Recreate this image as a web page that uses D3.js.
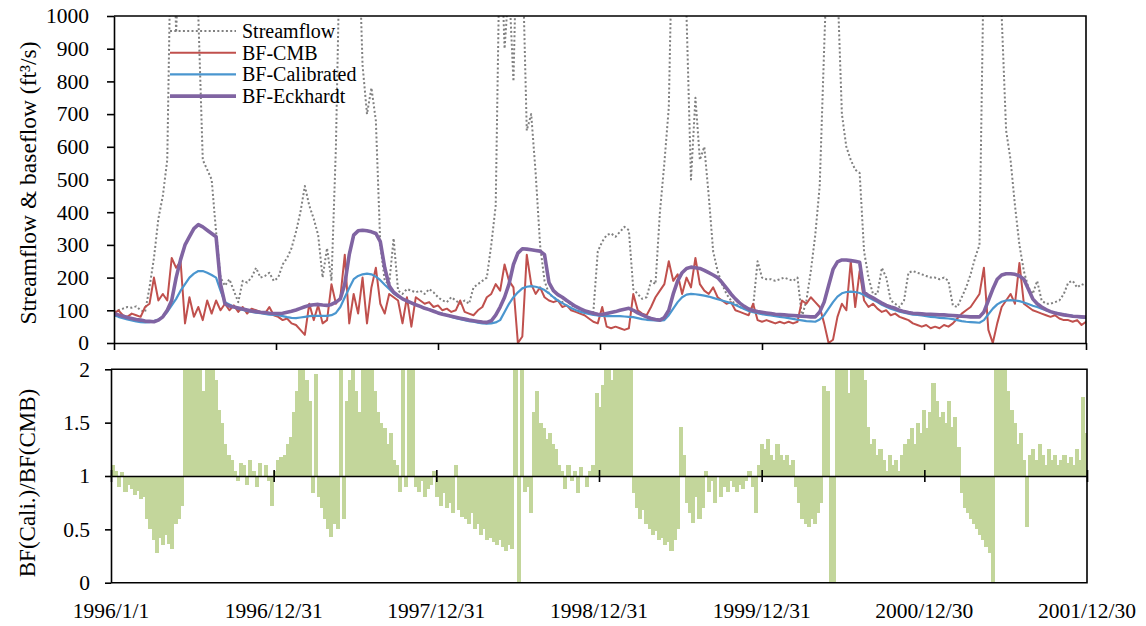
<!DOCTYPE html>
<html>
<head>
<meta charset="utf-8">
<script src="https://cdn.jsdelivr.net/npm/d3@7"></script>
<style>
  body { margin: 0; background: #ffffff; }
  svg text { font-family: "Liberation Serif", "Times New Roman", serif; fill: #000000; }
</style>
</head>
<body>
<div id="chart"></div>
<script>
//--------------------------------------------------
// Data
//--------------------------------------------------
var tickLabels = ['1996/1/1', '1996/12/31', '1997/12/31', '1998/12/31', '1999/12/31', '2000/12/30', '2001/12/30'];
var flowTicks = [0, 100, 200, 300, 400, 500, 600, 700, 800, 900, 1000];
var ratioTicks = [0, 0.5, 1, 1.5, 2];
var flowStepDays = 10;   // one value every 10 days from 1996/1/1
var ratioStepDays = 7;   // one bar every 7 days from 1996/1/1

var streamflow = [
  95,100,105,110,108,112,100,95,170,260,
  380,450,560,1400,950,1300,1100,1500,1200,1000,
  560,530,500,340,200,175,195,160,125,190,
  185,200,230,200,205,215,190,200,240,260,
  290,340,400,480,420,380,330,200,290,190,
  600,1300,1100,1000,1200,1300,850,700,780,680,
  300,190,180,320,160,150,165,160,155,160,
  150,165,155,140,130,125,140,130,120,130,
  120,170,180,190,200,300,420,1300,900,1100,
  800,1400,1200,650,700,520,300,190,150,140,
  130,125,130,115,110,105,100,95,95,280,
  310,330,335,325,340,355,345,165,150,135,
  140,190,180,400,550,720,1400,1200,1100,1000,
  500,750,560,600,450,280,220,180,150,130,
  120,110,105,100,110,250,200,195,195,190,
  195,200,195,190,200,80,130,220,330,480,
  900,1300,1500,1100,700,600,560,530,520,280,
  200,150,150,230,200,130,120,110,130,215,
  220,215,210,205,200,200,195,200,190,115,
  110,140,170,210,260,300,1200,1400,1300,1100,
  1000,650,560,420,300,220,170,150,190,130,
  120,120,125,130,150,185,190,170,180,175
];

var bfCMB = [
  90,100,85,80,90,85,80,110,120,200,
  130,150,130,260,230,250,60,140,80,110,
  70,130,90,130,100,120,100,115,95,110,
  90,105,100,95,90,110,85,80,70,75,
  60,55,40,25,120,70,115,60,70,180,
  120,140,270,60,150,90,200,60,170,230,
  120,90,150,140,130,60,140,50,140,130,
  120,125,110,115,100,105,95,100,130,95,
  90,85,100,110,140,150,180,160,240,190,
  170,0,20,270,180,150,170,140,130,125,
  130,110,115,100,95,90,85,75,65,60,
  110,50,45,50,45,40,45,150,100,90,
  85,110,140,160,180,250,190,210,150,200,
  170,260,180,160,150,170,140,130,120,125,
  100,95,90,85,120,70,65,70,65,60,
  65,60,65,60,65,130,120,140,125,110,
  60,0,10,80,120,100,250,110,220,130,
  110,120,105,95,100,85,90,80,75,70,
  60,55,50,55,45,50,45,55,50,60,
  75,90,100,110,130,150,230,40,0,60,
  110,130,150,120,245,120,110,100,95,90,
  85,80,85,75,70,70,65,70,55,65
];

var bfCalibrated = [
  85,80,76,72,69,66,64,63,64,67,
  72,80,95,115,135,160,180,200,212,220,
  220,215,208,200,160,125,118,110,105,101,
  98,95,93,91,89,87,86,85,82,79,
  77,76,78,80,82,83,83,83,83,85,
  92,110,140,168,195,205,210,212,210,203,
  192,178,165,152,142,135,128,122,117,112,
  107,103,98,93,89,85,80,76,73,70,
  67,65,62,60,59,60,63,70,95,120,
  140,155,167,172,174,172,168,162,152,140,
  130,122,115,107,101,96,92,89,86,84,
  83,82,82,82,82,81,80,79,76,73,
  71,70,69,68,70,85,105,125,140,148,
  150,149,147,145,142,138,134,130,126,122,
  116,110,104,98,94,91,88,86,84,82,
  80,78,76,74,71,69,67,66,65,72,
  85,105,125,142,152,156,157,156,153,147,
  140,132,125,117,111,105,100,96,93,90,
  87,86,84,82,80,79,77,76,75,73,
  70,67,65,64,63,62,70,88,105,118,
  126,130,131,130,128,124,119,114,110,105,
  100,96,93,90,88,85,83,80,78,76
];

var bfEckhardt = [
  90,86,82,78,75,72,70,67,66,65,
  70,80,100,130,200,255,300,325,350,362,
  355,345,335,325,180,120,113,110,107,104,
  101,98,96,94,93,91,90,90,91,94,
  97,101,106,111,115,117,118,116,115,118,
  125,135,180,270,330,343,345,343,340,335,
  310,230,175,155,145,135,129,123,117,112,
  106,102,97,92,88,85,82,79,76,73,
  70,68,66,64,63,68,85,110,140,180,
  240,275,288,287,285,283,281,270,185,160,
  148,140,130,121,112,105,99,95,91,88,
  87,90,93,96,100,103,106,100,92,86,
  80,75,72,70,78,100,150,190,215,228,
  232,230,228,222,215,208,200,185,168,150,
  135,122,112,104,99,96,94,92,90,88,
  87,86,85,84,83,82,81,80,80,95,
  125,175,225,248,254,254,252,250,247,155,
  145,138,130,122,115,110,106,100,96,93,
  91,90,89,88,88,87,86,86,85,84,
  83,82,81,80,80,80,95,130,165,195,
  208,212,212,210,205,195,165,135,120,110,
  102,96,92,89,86,84,82,81,80,79
];

// BF(Cali.)/BF(CMB), weekly, clipped to the 0-2 range of the panel
var ratioCaliCMB = [
  1.1,1.05, 0.9,1.04,0.85,0.92,0.88, 0.82,0.86,0.78,0.8,
  0.6,0.5,0.4,0.28, 0.42,0.35,0.45,0.36,0.32, 0.55,0.6,0.72,
  2,2,2,2,2,2,1.8,2,2,2,1.9, 1.62,1.5, 1.3,1.2,1.15, 1.05,0.95,1.12,
  1.1,0.92,1.15,1.05,0.9,1.12,1.0,1.1,0.95,0.72,1.05,1.15,1.18,
  1.2,1.3,1.37, 1.6,1.8,2,2,1.9, 1.7,0.84, 1.96,0.8,
  0.7,0.6,0.5,0.43,0.55,0.5,2,0.6, 1.7,1.9,2,1.8,1.6,2, 2,2,2,
  1.8,1.6,1.5, 1.45,1.3,1.4, 1.15,1.1, 0.85,2, 0.9,2,2,
  0.9,0.85,0.95,0.8,0.88,0.92,1.05, 0.8,0.72,0.84,0.7,0.75,0.65,1.1,
  0.68,0.62,0.6,0.55,0.65,0.5,0.55,0.45,0.5,0.4,0.42,0.38,0.35,0.4,0.33,
  0.3,0.35,0.32, 2,0,2,0.85, 0.9,0.65,
  1.6,1.8,1.5,1.45,1.35,1.4,1.3,1.25,
  1.1,1.05,0.88,1.1,0.95,1.05,0.84,1.08,1.0,0.9,1.05,1.1,1.78,
  1.65,1.85, 2,2,1.9,2,2,2,2,2,2, 0.84,0.7,0.6,
  0.68,0.55,0.5,0.45,0.48,0.4,0.42,0.35,0.38,0.3,0.4,0.5, 1.46,1.2,
  0.75,0.65,0.56,0.8,0.6,0.7, 1.05,0.85,0.95,0.75,1.0,0.8,0.9,0.85,
  0.95,0.9,0.85,0.92,0.88,0.95,1.05,0.9, 0.65,1.1,1.3,
  1.25,1.35,1.2,1.15,1.3,1.2,1.15,1.2,1.1,1.15,
  0.9,0.75,0.6,0.55,0.52,0.6,0.55,0.65,0.75, 1.84,1.8, 0,0, 2,2,2,2, 1.78,
  2,2,2,2,1.9, 1.46,1.3,1.35,1.2,1.25, 1.15,1.05,1.2,1.1,1.15,1.05,1.2,
  1.3,1.35,1.45,1.3,1.5,1.4,1.62,1.45, 1.6,1.87,1.7,1.55,1.6,1.5,1.7,1.46,1.55, 1.27,
  0.84,0.7,0.65,0.6,0.55,0.5,0.45,0.4,0.33,0.28, 0, 2,2,2,2,1.8, 1.62,1.5,
  1.3,1.4,1.15, 0.52,
  1.2,1.25,1.15,1.3,1.2,1.1,1.25,1.15,1.2,1.1,1.15,1.2,1.12,1.18,1.1,1.25,1.15,
  1.74,1.4
];

//--------------------------------------------------
// Chart
//--------------------------------------------------
var fontFamily = '"Liberation Serif", "Times New Roman", serif';
var axisColor = '#000000';

var svg = d3.select('#chart').append('svg')
  .attr('width', 1146)
  .attr('height', 626);

var parseTick = d3.utcParse('%Y/%m/%d');
var tickDates = tickLabels.map(parseTick);
var startDate = tickDates[0];
var endDate = tickDates[tickDates.length - 1];

var flowBox = {left: 114, right: 1086, top: 16, bottom: 343};
var ratioBox = {left: 111, right: 1087, top: 369.3, bottom: 582.7};

var xTop = d3.scaleUtc().domain([startDate, endDate]).range([flowBox.left, flowBox.right]);
var xBot = d3.scaleUtc().domain([startDate, endDate]).range([ratioBox.left, ratioBox.right]);
var yFlow = d3.scaleLinear().domain([0, 1000]).range([flowBox.bottom, flowBox.top]);
var yRatio = d3.scaleLinear().domain([0, 2]).range([ratioBox.bottom, ratioBox.top]);

function flowDate(i) { return d3.utcDay.offset(startDate, i * flowStepDays); }
function ratioDate(j) { return d3.utcDay.offset(startDate, j * ratioStepDays); }

var series = [
  {name: 'Streamflow',    values: streamflow,   color: '#808080', width: 2,   dash: '2 2.3'},
  {name: 'BF-CMB',        values: bfCMB,        color: '#C0504D', width: 2,   dash: null},
  {name: 'BF-Calibrated', values: bfCalibrated, color: '#4A96CF', width: 2.2, dash: null},
  {name: 'BF-Eckhardt',   values: bfEckhardt,   color: '#8064A2', width: 3.6, dash: null}
];

var defs = svg.append('defs');
defs.append('clipPath').attr('id', 'clipTop').append('rect')
  .attr('x', flowBox.left).attr('y', flowBox.top)
  .attr('width', flowBox.right - flowBox.left).attr('height', flowBox.bottom - flowBox.top);
defs.append('clipPath').attr('id', 'clipBot').append('rect')
  .attr('x', ratioBox.left).attr('y', ratioBox.top)
  .attr('width', ratioBox.right - ratioBox.left).attr('height', ratioBox.bottom - ratioBox.top);

function styleAxis(g, size) {
  g.selectAll('path, line').attr('stroke', axisColor).attr('stroke-width', 1.6);
  g.selectAll('text')
    .style('font-family', fontFamily)
    .style('font-size', size + 'px')
    .attr('fill', '#000000');
}

// --- top panel: lines
var lineGen = d3.line()
  .x(function(d, i) { return xTop(flowDate(i)); })
  .y(function(d) { return yFlow(d); });

var linesG = svg.append('g').attr('clip-path', 'url(#clipTop)');
series.forEach(function(s) {
  linesG.append('path')
    .datum(s.values)
    .attr('d', lineGen)
    .attr('fill', 'none')
    .attr('stroke', s.color)
    .attr('stroke-width', s.width)
    .attr('stroke-linejoin', 'round')
    .attr('stroke-dasharray', s.dash);
});

// top panel axes + frame
var yAxisTop = svg.append('g')
  .attr('transform', 'translate(' + flowBox.left + ',0)')
  .call(d3.axisLeft(yFlow).tickValues(flowTicks).tickSize(7).tickSizeOuter(0)
    .tickPadding(18).tickFormat(function(d) { return String(d); }));
styleAxis(yAxisTop, 21.5);

var xAxisTop = svg.append('g')
  .attr('transform', 'translate(0,' + flowBox.bottom + ')')
  .call(d3.axisBottom(xTop).tickValues(tickDates).tickSize(7).tickSizeOuter(0).tickFormat(''));
styleAxis(xAxisTop, 21.5);

svg.append('path')
  .attr('d', 'M' + flowBox.left + ',' + flowBox.top + 'H' + flowBox.right + 'V' + flowBox.bottom)
  .attr('fill', 'none').attr('stroke', axisColor).attr('stroke-width', 1.6);

// legend
var legend = svg.append('g').attr('transform', 'translate(170,31)');
series.forEach(function(s, i) {
  var y = i * 21.7;
  legend.append('line')
    .attr('x1', 0).attr('x2', 66).attr('y1', y).attr('y2', y)
    .attr('stroke', s.color)
    .attr('stroke-width', s.width)
    .attr('stroke-dasharray', s.dash);
  legend.append('text')
    .attr('x', 72).attr('y', y + 7)
    .style('font-size', '20px')
    .text(s.name);
});

// --- bottom panel: ratio bars around 1
var barsG = svg.append('g').attr('clip-path', 'url(#clipBot)');
barsG.selectAll('rect')
  .data(ratioCaliCMB)
  .enter().append('rect')
    .attr('x', function(d, j) { return xBot(ratioDate(j)); })
    .attr('width', function(d, j) { return xBot(ratioDate(j + 1)) - xBot(ratioDate(j)) + 1; })
    .attr('y', function(d) { return Math.min(yRatio(d), yRatio(1)); })
    .attr('height', function(d) { return Math.abs(yRatio(d) - yRatio(1)); })
    .attr('shape-rendering', 'crispEdges')
    .attr('fill', '#C3D69B');

var yAxisBot = svg.append('g')
  .attr('transform', 'translate(' + ratioBox.left + ',0)')
  .call(d3.axisLeft(yRatio).tickValues(ratioTicks).tickSize(6).tickSizeOuter(0)
    .tickPadding(15).tickFormat(function(d) { return String(d); }));
styleAxis(yAxisBot, 21.5);

// axis crossing at ratio = 1, ticks both sides
var midAxis = svg.append('g')
  .attr('transform', 'translate(0,' + yRatio(1) + ')')
  .call(d3.axisBottom(xBot).tickValues(tickDates).tickSize(6).tickSizeOuter(0).tickFormat(''));
midAxis.selectAll('.tick line').attr('y1', -6).attr('y2', 6);
styleAxis(midAxis, 21.5);

svg.append('path')
  .attr('d', 'M' + ratioBox.left + ',' + ratioBox.top + 'H' + ratioBox.right + 'V' + ratioBox.bottom + 'H' + ratioBox.left)
  .attr('fill', 'none').attr('stroke', axisColor).attr('stroke-width', 1.6);

// date labels under the bottom panel
svg.append('g').selectAll('text')
  .data(tickDates)
  .enter().append('text')
    .attr('x', function(d) { return xBot(d); })
    .attr('y', 618)
    .attr('text-anchor', 'middle')
    .style('font-size', '21.5px')
    .text(function(d, i) { return tickLabels[i]; });

// axis titles
svg.append('text')
  .attr('transform', 'translate(28,183) rotate(-90)')
  .attr('dy', '0.35em')
  .attr('text-anchor', 'middle')
  .style('font-size', '23.5px')
  .text('Streamflow & baseflow (ft\u00B3/s)');

svg.append('text')
  .attr('transform', 'translate(27,483) rotate(-90)')
  .attr('dy', '0.35em')
  .attr('text-anchor', 'middle')
  .style('font-size', '23px')
  .text('BF(Cali.)/BF(CMB)');
</script>
</body>
</html>
